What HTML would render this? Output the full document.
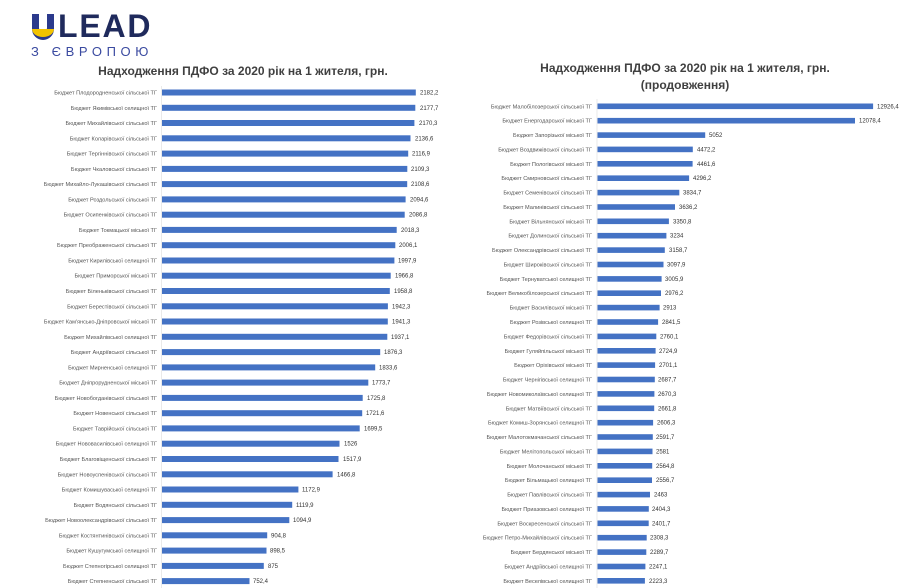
<!DOCTYPE html>
<html><head><meta charset="utf-8"><style>
html,body{margin:0;padding:0;background:#fff;width:900px;height:588px;overflow:hidden}
svg{display:block}
.l{font-family:"Liberation Sans",sans-serif;font-size:5.6px;fill:#555;text-anchor:end}
.v{font-family:"Liberation Sans",sans-serif;font-size:6px;fill:#333}
.t{font-family:"Liberation Sans",sans-serif;font-size:12px;font-weight:bold;fill:#404040;text-anchor:middle}
rect.b{fill:#4472c4}
</style></head><body>
<svg width="900" height="588" viewBox="0 0 900 588" xmlns="http://www.w3.org/2000/svg">
<path d="M32 14h7v14a4 4 0 0 0 8 0V14h7v15a11 11 0 0 1-22 0z" fill="#2b3a8c"/>
<path d="M32 29h22a11 8 0 0 1-22 0z" fill="#f2c300"/>
<text x="58" y="37" font-family="Liberation Sans,sans-serif" font-weight="bold" font-size="32" fill="#1f2a5c" letter-spacing="1.8">LEAD</text>
<text x="31" y="56" font-family="Liberation Sans,sans-serif" font-size="13" fill="#3a4aa0" letter-spacing="4.6">З ЄВРОПОЮ</text>
<text class="t" x="243" y="75">Надходження ПДФО за 2020 рік на 1 жителя, грн.</text>
<text class="t" x="685" y="72">Надходження ПДФО за 2020 рік на 1 жителя, грн.</text>
<text class="t" x="685" y="89">(продовження)</text>
<line x1="161.5" y1="86" x2="161.5" y2="588" stroke="#ddd" stroke-width="0.6"/>
<line x1="597" y1="99" x2="597" y2="588" stroke="#ddd" stroke-width="0.6"/>
<g transform="translate(0,92.5)"><text class="l" x="157" y="2">Бюджет Плодородненської сільської ТГ</text><rect class="b" x="162" y="-3" width="253.8" height="6"/><text class="v" x="420" y="2">2182,2</text></g>
<g transform="translate(0,107.8)"><text class="l" x="157" y="2">Бюджет Якимівської селищної ТГ</text><rect class="b" x="162" y="-3" width="253.3" height="6"/><text class="v" x="420" y="2">2177,7</text></g>
<g transform="translate(0,123.0)"><text class="l" x="157" y="2">Бюджет Михайлівської сільської ТГ</text><rect class="b" x="162" y="-3" width="252.4" height="6"/><text class="v" x="419" y="2">2170,3</text></g>
<g transform="translate(0,138.3)"><text class="l" x="157" y="2">Бюджет Коларівської сільської ТГ</text><rect class="b" x="162" y="-3" width="248.5" height="6"/><text class="v" x="415" y="2">2136,6</text></g>
<g transform="translate(0,153.6)"><text class="l" x="157" y="2">Бюджет Тергіннівської сільської ТГ</text><rect class="b" x="162" y="-3" width="246.2" height="6"/><text class="v" x="412" y="2">2116,9</text></g>
<g transform="translate(0,168.9)"><text class="l" x="157" y="2">Бюджет Чкаловської сільської ТГ</text><rect class="b" x="162" y="-3" width="245.3" height="6"/><text class="v" x="411" y="2">2109,3</text></g>
<g transform="translate(0,184.1)"><text class="l" x="157" y="2">Бюджет Михайло-Лукашівської сільської ТГ</text><rect class="b" x="162" y="-3" width="245.2" height="6"/><text class="v" x="411" y="2">2108,6</text></g>
<g transform="translate(0,199.4)"><text class="l" x="157" y="2">Бюджет Роздольської сільської ТГ</text><rect class="b" x="162" y="-3" width="243.6" height="6"/><text class="v" x="410" y="2">2094,6</text></g>
<g transform="translate(0,214.7)"><text class="l" x="157" y="2">Бюджет Осипенківської сільської ТГ</text><rect class="b" x="162" y="-3" width="242.7" height="6"/><text class="v" x="409" y="2">2086,8</text></g>
<g transform="translate(0,229.9)"><text class="l" x="157" y="2">Бюджет Токмацької міської ТГ</text><rect class="b" x="162" y="-3" width="234.7" height="6"/><text class="v" x="401" y="2">2018,3</text></g>
<g transform="translate(0,245.2)"><text class="l" x="157" y="2">Бюджет Преображенської сільської ТГ</text><rect class="b" x="162" y="-3" width="233.3" height="6"/><text class="v" x="399" y="2">2006,1</text></g>
<g transform="translate(0,260.5)"><text class="l" x="157" y="2">Бюджет Кирилівської селищної ТГ</text><rect class="b" x="162" y="-3" width="232.4" height="6"/><text class="v" x="398" y="2">1997,9</text></g>
<g transform="translate(0,275.7)"><text class="l" x="157" y="2">Бюджет Приморської міської ТГ</text><rect class="b" x="162" y="-3" width="228.7" height="6"/><text class="v" x="395" y="2">1966,8</text></g>
<g transform="translate(0,291.0)"><text class="l" x="157" y="2">Бюджет Біленьківської сільської ТГ</text><rect class="b" x="162" y="-3" width="227.8" height="6"/><text class="v" x="394" y="2">1958,8</text></g>
<g transform="translate(0,306.3)"><text class="l" x="157" y="2">Бюджет Берестівської сільської ТГ</text><rect class="b" x="162" y="-3" width="225.9" height="6"/><text class="v" x="392" y="2">1942,3</text></g>
<g transform="translate(0,321.5)"><text class="l" x="157" y="2">Бюджет Кам'янсько-Дніпровської міської ТГ</text><rect class="b" x="162" y="-3" width="225.8" height="6"/><text class="v" x="392" y="2">1941,3</text></g>
<g transform="translate(0,336.8)"><text class="l" x="157" y="2">Бюджет Михайлівської селищної ТГ</text><rect class="b" x="162" y="-3" width="225.3" height="6"/><text class="v" x="391" y="2">1937,1</text></g>
<g transform="translate(0,352.1)"><text class="l" x="157" y="2">Бюджет Андріївської сільської ТГ</text><rect class="b" x="162" y="-3" width="218.2" height="6"/><text class="v" x="384" y="2">1876,3</text></g>
<g transform="translate(0,367.4)"><text class="l" x="157" y="2">Бюджет Мирненської селищної ТГ</text><rect class="b" x="162" y="-3" width="213.2" height="6"/><text class="v" x="379" y="2">1833,6</text></g>
<g transform="translate(0,382.6)"><text class="l" x="157" y="2">Бюджет Дніпрорудненської міської ТГ</text><rect class="b" x="162" y="-3" width="206.3" height="6"/><text class="v" x="372" y="2">1773,7</text></g>
<g transform="translate(0,397.9)"><text class="l" x="157" y="2">Бюджет Новобогданівської сільської ТГ</text><rect class="b" x="162" y="-3" width="200.7" height="6"/><text class="v" x="367" y="2">1725,8</text></g>
<g transform="translate(0,413.2)"><text class="l" x="157" y="2">Бюджет Новенської сільської ТГ</text><rect class="b" x="162" y="-3" width="200.2" height="6"/><text class="v" x="366" y="2">1721,6</text></g>
<g transform="translate(0,428.4)"><text class="l" x="157" y="2">Бюджет Таврійської сільської ТГ</text><rect class="b" x="162" y="-3" width="197.7" height="6"/><text class="v" x="364" y="2">1699,5</text></g>
<g transform="translate(0,443.7)"><text class="l" x="157" y="2">Бюджет Нововасилівської селищної ТГ</text><rect class="b" x="162" y="-3" width="177.5" height="6"/><text class="v" x="344" y="2">1526</text></g>
<g transform="translate(0,459.0)"><text class="l" x="157" y="2">Бюджет Благовіщенської сільської ТГ</text><rect class="b" x="162" y="-3" width="176.5" height="6"/><text class="v" x="343" y="2">1517,9</text></g>
<g transform="translate(0,474.3)"><text class="l" x="157" y="2">Бюджет Новоуспенівської сільської ТГ</text><rect class="b" x="162" y="-3" width="170.6" height="6"/><text class="v" x="337" y="2">1466,8</text></g>
<g transform="translate(0,489.5)"><text class="l" x="157" y="2">Бюджет Комишуваської селищної ТГ</text><rect class="b" x="162" y="-3" width="136.4" height="6"/><text class="v" x="302" y="2">1172,9</text></g>
<g transform="translate(0,504.8)"><text class="l" x="157" y="2">Бюджет Водянської сільської ТГ</text><rect class="b" x="162" y="-3" width="130.2" height="6"/><text class="v" x="296" y="2">1119,9</text></g>
<g transform="translate(0,520.1)"><text class="l" x="157" y="2">Бюджет Новоолександрівської сільської ТГ</text><rect class="b" x="162" y="-3" width="127.3" height="6"/><text class="v" x="293" y="2">1094,9</text></g>
<g transform="translate(0,535.3)"><text class="l" x="157" y="2">Бюджет Костянтинівської сільської ТГ</text><rect class="b" x="162" y="-3" width="105.2" height="6"/><text class="v" x="271" y="2">904,8</text></g>
<g transform="translate(0,550.6)"><text class="l" x="157" y="2">Бюджет Кушугумської селищної ТГ</text><rect class="b" x="162" y="-3" width="104.5" height="6"/><text class="v" x="270" y="2">898,5</text></g>
<g transform="translate(0,565.9)"><text class="l" x="157" y="2">Бюджет Степногірської селищної ТГ</text><rect class="b" x="162" y="-3" width="101.8" height="6"/><text class="v" x="268" y="2">875</text></g>
<g transform="translate(0,581.1)"><text class="l" x="157" y="2">Бюджет Степненської сільської ТГ</text><rect class="b" x="162" y="-3" width="87.5" height="6"/><text class="v" x="253" y="2">752,4</text></g>
<g transform="translate(0,106.3)"><text class="l" x="592" y="2">Бюджет Малобілозерської сільської ТГ</text><rect class="b" x="597.5" y="-2.8" width="275.6" height="5.6"/><text class="v" x="877" y="2">12926,4</text></g>
<g transform="translate(0,120.7)"><text class="l" x="592" y="2">Бюджет Енергодарської міської ТГ</text><rect class="b" x="597.5" y="-2.8" width="257.5" height="5.6"/><text class="v" x="859" y="2">12078,4</text></g>
<g transform="translate(0,135.1)"><text class="l" x="592" y="2">Бюджет Запорізької міської ТГ</text><rect class="b" x="597.5" y="-2.8" width="107.7" height="5.6"/><text class="v" x="709" y="2">5052</text></g>
<g transform="translate(0,149.4)"><text class="l" x="592" y="2">Бюджет Воздвижівської сільської ТГ</text><rect class="b" x="597.5" y="-2.8" width="95.3" height="5.6"/><text class="v" x="697" y="2">4472,2</text></g>
<g transform="translate(0,163.8)"><text class="l" x="592" y="2">Бюджет Пологівської міської ТГ</text><rect class="b" x="597.5" y="-2.8" width="95.1" height="5.6"/><text class="v" x="697" y="2">4461,6</text></g>
<g transform="translate(0,178.2)"><text class="l" x="592" y="2">Бюджет Смирновської сільської ТГ</text><rect class="b" x="597.5" y="-2.8" width="91.6" height="5.6"/><text class="v" x="693" y="2">4296,2</text></g>
<g transform="translate(0,192.6)"><text class="l" x="592" y="2">Бюджет Семенівської сільської ТГ</text><rect class="b" x="597.5" y="-2.8" width="81.8" height="5.6"/><text class="v" x="683" y="2">3834,7</text></g>
<g transform="translate(0,207.0)"><text class="l" x="592" y="2">Бюджет Малинівської сільської ТГ</text><rect class="b" x="597.5" y="-2.8" width="77.5" height="5.6"/><text class="v" x="679" y="2">3636,2</text></g>
<g transform="translate(0,221.3)"><text class="l" x="592" y="2">Бюджет Вільнянської міської ТГ</text><rect class="b" x="597.5" y="-2.8" width="71.4" height="5.6"/><text class="v" x="673" y="2">3350,8</text></g>
<g transform="translate(0,235.7)"><text class="l" x="592" y="2">Бюджет Долинської сільської ТГ</text><rect class="b" x="597.5" y="-2.8" width="68.9" height="5.6"/><text class="v" x="670" y="2">3234</text></g>
<g transform="translate(0,250.1)"><text class="l" x="592" y="2">Бюджет Олександрівської сільської ТГ</text><rect class="b" x="597.5" y="-2.8" width="67.3" height="5.6"/><text class="v" x="669" y="2">3158,7</text></g>
<g transform="translate(0,264.5)"><text class="l" x="592" y="2">Бюджет Широківської сільської ТГ</text><rect class="b" x="597.5" y="-2.8" width="66.0" height="5.6"/><text class="v" x="667" y="2">3097,9</text></g>
<g transform="translate(0,278.9)"><text class="l" x="592" y="2">Бюджет Тернуватської селищної ТГ</text><rect class="b" x="597.5" y="-2.8" width="64.1" height="5.6"/><text class="v" x="665" y="2">3005,9</text></g>
<g transform="translate(0,293.2)"><text class="l" x="592" y="2">Бюджет Великобілозерської сільської ТГ</text><rect class="b" x="597.5" y="-2.8" width="63.5" height="5.6"/><text class="v" x="665" y="2">2976,2</text></g>
<g transform="translate(0,307.6)"><text class="l" x="592" y="2">Бюджет Василівської міської ТГ</text><rect class="b" x="597.5" y="-2.8" width="62.1" height="5.6"/><text class="v" x="663" y="2">2913</text></g>
<g transform="translate(0,322.0)"><text class="l" x="592" y="2">Бюджет Розівської селищної ТГ</text><rect class="b" x="597.5" y="-2.8" width="60.6" height="5.6"/><text class="v" x="662" y="2">2841,5</text></g>
<g transform="translate(0,336.4)"><text class="l" x="592" y="2">Бюджет Федорівської сільської ТГ</text><rect class="b" x="597.5" y="-2.8" width="58.8" height="5.6"/><text class="v" x="660" y="2">2760,1</text></g>
<g transform="translate(0,350.8)"><text class="l" x="592" y="2">Бюджет Гуляйпільської міської ТГ</text><rect class="b" x="597.5" y="-2.8" width="58.1" height="5.6"/><text class="v" x="659" y="2">2724,9</text></g>
<g transform="translate(0,365.1)"><text class="l" x="592" y="2">Бюджет Оріхівської міської ТГ</text><rect class="b" x="597.5" y="-2.8" width="57.6" height="5.6"/><text class="v" x="659" y="2">2701,1</text></g>
<g transform="translate(0,379.5)"><text class="l" x="592" y="2">Бюджет Чернігівської селищної ТГ</text><rect class="b" x="597.5" y="-2.8" width="57.3" height="5.6"/><text class="v" x="658" y="2">2687,7</text></g>
<g transform="translate(0,393.9)"><text class="l" x="592" y="2">Бюджет Новомиколаївської селищної ТГ</text><rect class="b" x="597.5" y="-2.8" width="56.9" height="5.6"/><text class="v" x="658" y="2">2670,3</text></g>
<g transform="translate(0,408.3)"><text class="l" x="592" y="2">Бюджет Матвіївської сільської ТГ</text><rect class="b" x="597.5" y="-2.8" width="56.7" height="5.6"/><text class="v" x="658" y="2">2661,8</text></g>
<g transform="translate(0,422.7)"><text class="l" x="592" y="2">Бюджет Комиш-Зорянської селищної ТГ</text><rect class="b" x="597.5" y="-2.8" width="55.6" height="5.6"/><text class="v" x="657" y="2">2606,3</text></g>
<g transform="translate(0,437.0)"><text class="l" x="592" y="2">Бюджет Малотокмачанської сільської ТГ</text><rect class="b" x="597.5" y="-2.8" width="55.3" height="5.6"/><text class="v" x="656" y="2">2591,7</text></g>
<g transform="translate(0,451.4)"><text class="l" x="592" y="2">Бюджет Мелітопольської міської ТГ</text><rect class="b" x="597.5" y="-2.8" width="55.0" height="5.6"/><text class="v" x="656" y="2">2581</text></g>
<g transform="translate(0,465.8)"><text class="l" x="592" y="2">Бюджет Молочанської міської ТГ</text><rect class="b" x="597.5" y="-2.8" width="54.7" height="5.6"/><text class="v" x="656" y="2">2564,8</text></g>
<g transform="translate(0,480.2)"><text class="l" x="592" y="2">Бюджет Більмацької селищної ТГ</text><rect class="b" x="597.5" y="-2.8" width="54.5" height="5.6"/><text class="v" x="656" y="2">2556,7</text></g>
<g transform="translate(0,494.6)"><text class="l" x="592" y="2">Бюджет Павлівської сільської ТГ</text><rect class="b" x="597.5" y="-2.8" width="52.5" height="5.6"/><text class="v" x="654" y="2">2463</text></g>
<g transform="translate(0,508.9)"><text class="l" x="592" y="2">Бюджет Приазовської селищної ТГ</text><rect class="b" x="597.5" y="-2.8" width="51.3" height="5.6"/><text class="v" x="652" y="2">2404,3</text></g>
<g transform="translate(0,523.3)"><text class="l" x="592" y="2">Бюджет Воскресенської сільської ТГ</text><rect class="b" x="597.5" y="-2.8" width="51.2" height="5.6"/><text class="v" x="652" y="2">2401,7</text></g>
<g transform="translate(0,537.7)"><text class="l" x="592" y="2">Бюджет Петро-Михайлівської сільської ТГ</text><rect class="b" x="597.5" y="-2.8" width="49.2" height="5.6"/><text class="v" x="650" y="2">2308,3</text></g>
<g transform="translate(0,552.1)"><text class="l" x="592" y="2">Бюджет Бердянської міської ТГ</text><rect class="b" x="597.5" y="-2.8" width="48.8" height="5.6"/><text class="v" x="650" y="2">2289,7</text></g>
<g transform="translate(0,566.5)"><text class="l" x="592" y="2">Бюджет Андріївської селищної ТГ</text><rect class="b" x="597.5" y="-2.8" width="47.9" height="5.6"/><text class="v" x="649" y="2">2247,1</text></g>
<g transform="translate(0,580.8)"><text class="l" x="592" y="2">Бюджет Веселівської селищної ТГ</text><rect class="b" x="597.5" y="-2.8" width="47.4" height="5.6"/><text class="v" x="649" y="2">2223,3</text></g>
</svg>
</body></html>
